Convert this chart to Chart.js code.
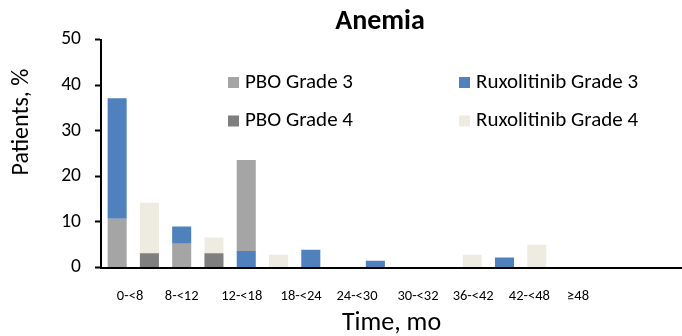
<!DOCTYPE html>
<html>
<head>
<meta charset="utf-8">
<script src="https://cdn.jsdelivr.net/npm/chart.js@4/dist/chart.umd.min.js"></script>
<style>
  html, body { margin: 0; padding: 0; background: #fff; }
  #wrap { width: 682px; height: 336px; position: relative; }
</style>
</head>
<body>
<div id="wrap"><canvas id="c" width="682" height="336"></canvas></div>
<script>
// ---- data ----
const chartTitle = 'Anemia';
const yTitle = 'Patients, %';
const xTitle = 'Time, mo';
const timeLabels = ['0-<8', '8-<12', '12-<18', '18-<24', '24-<30', '30-<32', '36-<42', '42-<48', '≥48'];
// where each time label sits along the bar slots (slot units)
const timeLabelSlots = [0.40, 2.00, 3.86, 5.70, 7.43, 9.32, 11.03, 12.77, 14.28];
// 18 bar slots (grade 3 / grade 4 pairs)
const slots = ['s0','s1','s2','s3','s4','s5','s6','s7','s8','s9','s10','s11','s12','s13','s14','s15','s16','s17'];
// segment heights (% patients) per slot
const pboGrade3 = [10.7, 0, 5.2, 0, 20.0, 0, 0, 0, 0, 0, 0, 0, 0, 0, 0, 0, 0, 0];
const ruxGrade3 = [26.4, 0, 3.8, 0, 3.6, 0, 3.9, 0, 1.5, 0, 0, 0, 2.2, 0, 0, 0, 0, 0];
const pboGrade4 = [0, 3.1, 0, 3.1, 0, 0, 0, 0, 0, 0, 0, 0, 0, 0, 0, 0, 0, 0];
const ruxGrade4 = [0, 11.1, 0, 3.5, 0, 2.8, 0, 0, 0, 0, 0, 2.8, 0, 5.0, 0, 0, 0, 0];
// slots where the ruxolitinib segment sits below the placebo segment
const ruxBelowSlots = [4];
const yTicks = [0, 10, 20, 30, 40, 50];

// ---- build floating stacked segments ----
function segments(lower, upper, swapSlots) {
  const lo = [], up = [];
  for (let i = 0; i < slots.length; i++) {
    let a = lower, b = upper, aOut = lo, bOut = up;
    if (swapSlots.includes(i)) { a = upper; b = lower; aOut = up; bOut = lo; }
    const v1 = a[i], v2 = b[i];
    aOut.push(v1 > 0 ? [0, v1] : null);
    bOut.push(v2 > 0 ? [v1, v1 + v2] : null);
  }
  return [lo, up];
}
const [pbo3Seg, rux3Seg] = segments(pboGrade3, ruxGrade3, ruxBelowSlots);
const [pbo4Seg, rux4Seg] = segments(pboGrade4, ruxGrade4, []);

const FONT = 'Carlito, Calibri, Lato, "Open Sans", sans-serif';
const colors = {
  pbo3: '#A5A5A5', pbo4: '#7F7F7F', rux3: '#4F81BD', rux4: '#EEECE1'
};

const common = { grouped: false, barPercentage: 0.59, categoryPercentage: 1, borderWidth: 0, xAxisID: 'x', yAxisID: 'y' };

const textPlugin = {
  id: 'customText',
  afterDraw(chart) {
    const ctx = chart.ctx;
    ctx.save();
    ctx.fillStyle = '#000';
    ctx.textAlign = 'center';
    ctx.textBaseline = 'middle';
    // chart title
    ctx.font = 'bold 28px ' + FONT;
    ctx.fillText(chartTitle, 380, 22);
    // y axis title
    ctx.font = '24px ' + FONT;
    ctx.translate(22, 122);
    ctx.rotate(-Math.PI / 2);
    ctx.fillText(yTitle, 0, 0);
    ctx.restore();
  }
};

const legendPlugin = {
  id: 'customLegend',
  afterDraw(chart) {
    const ctx = chart.ctx;
    const a = chart.chartArea;
    const cols = [a.left + 127, a.left + 358];
    const rows = [a.top + 43, a.top + 81.5];
    const order = [[0, 0, 0], [2, 0, 1], [1, 1, 0], [3, 1, 1]];
    ctx.save();
    ctx.font = '21px ' + FONT;
    ctx.textBaseline = 'middle';
    ctx.textAlign = 'left';
    order.forEach(([di, c, r]) => {
      const ds = chart.data.datasets[di];
      const x = cols[c], y = rows[r];
      ctx.fillStyle = ds.backgroundColor;
      ctx.fillRect(x, y - 5.5, 11, 11);
      ctx.fillStyle = '#000';
      ctx.fillText(ds.label, x + 17, y);
    });
    ctx.restore();
  }
};

new Chart(document.getElementById('c'), {
  type: 'bar',
  data: {
    labels: slots,
    datasets: [
      Object.assign({ label: 'PBO Grade 3', data: pbo3Seg, backgroundColor: colors.pbo3 }, common),
      Object.assign({ label: 'Ruxolitinib Grade 3', data: rux3Seg, backgroundColor: colors.rux3 }, common),
      Object.assign({ label: 'PBO Grade 4', data: pbo4Seg, backgroundColor: colors.pbo4 }, common),
      Object.assign({ label: 'Ruxolitinib Grade 4', data: rux4Seg, backgroundColor: colors.rux4 }, common)
    ]
  },
  options: {
    responsive: false,
    animation: false,
    layout: { padding: { top: 39.5, left: 0, right: 0, bottom: 0 } },
    plugins: {
      legend: { display: false },
      title: { display: false },
      tooltip: { enabled: false }
    },
    scales: {
      x: {
        type: 'category',
        display: false,
        offset: true
      },
      x2: {
        type: 'linear',
        position: 'bottom',
        offset: false,
        bounds: 'data',
        min: -0.5,
        max: slots.length - 0.5,
        afterBuildTicks(scale) {
          scale.ticks = timeLabelSlots.map(v => ({ value: v }));
        },
        afterFit(scale) { scale.height = 68.5; },
        ticks: {
          autoSkip: false,
          maxRotation: 0,
          padding: 20,
          color: '#000',
          font: { family: FONT, size: 14.5 },
          callback: (v, i) => timeLabels[i]
        },
        grid: { display: false, drawTicks: false, offset: false },
        border: { display: true, color: '#000', width: 2 },
        title: {
          display: true,
          text: xTitle,
          color: '#000',
          font: { family: FONT, size: 26, lineHeight: 1 },
          padding: { top: 0, bottom: 0 }
        }
      },
      y: {
        min: 0,
        max: 50,
        afterBuildTicks(scale) {
          scale.ticks = yTicks.map(v => ({ value: v }));
        },
        afterFit(scale) { scale.width = 101; },
        ticks: {
          color: '#000',
          padding: 14,
          font: { family: FONT, size: 19.5 }
        },
        grid: { drawOnChartArea: false, tickLength: 6, tickColor: '#000', tickWidth: 2 },
        border: { color: '#000', width: 2 },
        title: { display: false }
      }
    }
  },
  plugins: [textPlugin, legendPlugin]
});
</script>
</body>
</html>
